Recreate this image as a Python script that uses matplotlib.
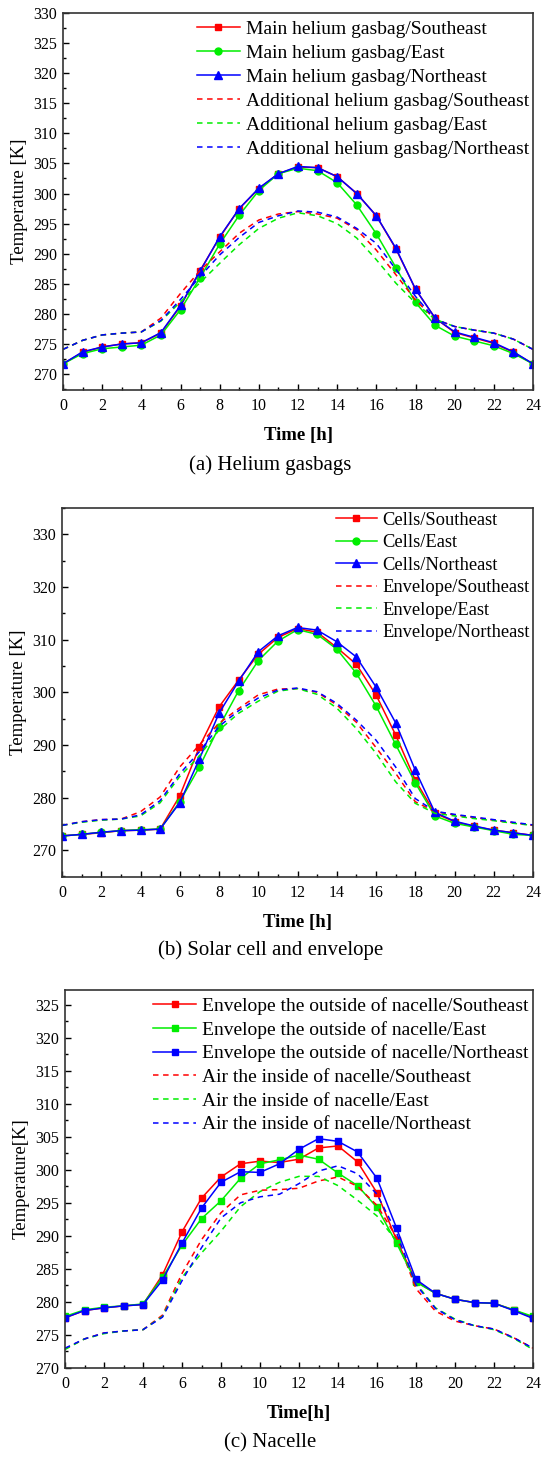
import matplotlib
matplotlib.use("Agg")
import matplotlib.pyplot as plt
from matplotlib.ticker import MultipleLocator

plt.rcParams['font.family'] = ['Liberation Serif', 'DejaVu Serif']
plt.rcParams['mathtext.fontset'] = 'stix'

hours = list(range(25))

# ---------------- (a) Helium gasbags ----------------
main_se = [271.7, 273.6, 274.5, 275.0, 275.2, 276.8, 281.3, 287.2, 292.7, 297.5, 300.8, 303.3, 304.4,
           304.3, 302.8, 300.0, 296.3, 290.8, 284.1, 279.3, 276.9, 276.0, 275.1, 273.6, 271.7]
main_e = [271.7, 273.4, 274.2, 274.5, 274.8, 276.5, 280.7, 286.0, 291.6, 296.4, 300.5, 303.3, 304.2,
          303.8, 301.8, 298.1, 293.3, 287.7, 281.9, 278.1, 276.3, 275.5, 274.7, 273.4, 271.7]
main_ne = [271.7, 273.7, 274.5, 275.0, 275.2, 276.9, 281.4, 287.1, 292.8, 297.5, 300.9, 303.3, 304.5,
           304.3, 302.8, 300.0, 296.3, 290.9, 284.1, 279.3, 277.0, 276.1, 275.2, 273.7, 271.7]
add_se = [274.1, 275.6, 276.5, 276.8, 277.0, 279.3, 283.4, 287.2, 290.3, 293.4, 295.6, 296.6, 297.0,
          296.6, 295.9, 294.0, 290.6, 286.5, 282.3, 279.1, 277.9, 277.3, 276.8, 275.8, 274.1]
add_e = [274.1, 275.6, 276.5, 276.8, 277.0, 278.8, 282.0, 285.2, 288.4, 291.5, 294.2, 295.9, 296.8,
         296.3, 295.0, 292.6, 289.0, 285.1, 281.8, 279.1, 277.9, 277.3, 276.8, 275.8, 274.1]
add_ne = [274.1, 275.6, 276.5, 276.8, 277.0, 278.9, 282.4, 286.2, 289.8, 292.7, 295.2, 296.3, 297.1,
          296.9, 296.1, 294.2, 291.7, 287.4, 282.9, 279.1, 277.9, 277.3, 276.8, 275.8, 274.1]
labels_a = ['Main helium gasbag/Southeast', 'Main helium gasbag/East', 'Main helium gasbag/Northeast',
            'Additional helium gasbag/Southeast', 'Additional helium gasbag/East',
            'Additional helium gasbag/Northeast']

# ---------------- (b) Solar cell and envelope ----------------
cells_se = [272.7, 273.0, 273.3, 273.7, 273.8, 274.0, 280.3, 289.6, 297.2, 302.3, 307.2, 310.4, 312.1,
            311.4, 308.5, 305.3, 299.5, 291.9, 283.3, 277.0, 275.4, 274.5, 273.8, 273.3, 272.8]
cells_e = [272.7, 273.0, 273.4, 273.7, 273.9, 274.0, 279.2, 285.8, 293.4, 300.3, 306.0, 309.7, 311.9,
           311.0, 308.2, 303.6, 297.4, 290.1, 282.8, 276.5, 275.1, 274.4, 273.7, 273.0, 272.8]
cells_ne = [272.7, 273.0, 273.4, 273.7, 273.8, 274.0, 279.0, 287.3, 296.0, 302.1, 307.7, 310.7, 312.3,
            311.8, 309.6, 306.7, 301.0, 294.2, 285.2, 277.2, 275.5, 274.6, 273.8, 273.3, 272.8]
env_se = [274.7, 275.4, 275.8, 275.9, 277.3, 280.1, 285.8, 290.0, 294.1, 296.9, 299.5, 300.6, 300.7,
          300.0, 297.6, 294.3, 289.5, 284.6, 279.2, 277.3, 276.7, 276.2, 275.7, 275.2, 274.7]
env_e = [274.7, 275.3, 275.7, 275.9, 276.5, 279.0, 284.0, 287.9, 292.8, 296.0, 298.3, 300.2, 300.7,
         299.6, 297.0, 293.1, 288.4, 283.0, 278.9, 277.0, 276.5, 276.0, 275.6, 275.1, 274.7]
env_ne = [274.7, 275.4, 275.8, 275.9, 276.7, 279.4, 284.5, 288.7, 293.5, 296.5, 298.9, 300.4, 300.8,
          300.1, 297.9, 294.7, 290.9, 285.8, 279.8, 277.4, 276.8, 276.3, 275.8, 275.3, 274.8]
labels_b = ['Cells/Southeast', 'Cells/East', 'Cells/Northeast',
            'Envelope/Southeast', 'Envelope/East', 'Envelope/Northeast']

# ---------------- (c) Nacelle ----------------
out_se = [277.6, 278.7, 279.1, 279.4, 279.6, 284.1, 290.6, 295.7, 298.9, 300.9, 301.3, 301.1, 301.6,
          303.3, 303.6, 301.2, 296.5, 289.4, 283.1, 281.3, 280.4, 279.9, 279.8, 278.8, 277.6]
out_e = [277.8, 278.8, 279.2, 279.4, 279.7, 283.7, 288.6, 292.6, 295.3, 298.7, 300.9, 301.5, 302.2,
         301.6, 299.5, 297.6, 294.3, 288.9, 283.0, 281.3, 280.4, 279.9, 279.8, 278.8, 277.8]
out_ne = [277.6, 278.7, 279.1, 279.4, 279.6, 283.3, 288.9, 294.2, 298.1, 299.7, 299.6, 300.9, 303.1,
          304.7, 304.3, 302.7, 298.7, 291.2, 283.4, 281.3, 280.4, 279.9, 279.8, 278.7, 277.5]
air_se = [272.9, 274.4, 275.3, 275.6, 275.8, 278.0, 284.3, 289.4, 293.5, 296.2, 296.9, 297.0, 297.2,
          298.3, 298.9, 297.5, 294.6, 289.8, 282.0, 278.6, 277.1, 276.4, 275.9, 274.6, 273.0]
air_e = [272.8, 274.4, 275.2, 275.6, 275.8, 277.8, 283.7, 287.4, 290.7, 294.4, 296.7, 298.1, 299.0,
         299.0, 297.6, 295.4, 293.0, 289.2, 282.8, 279.1, 277.4, 276.4, 275.8, 274.5, 272.8]
air_ne = [273.0, 274.4, 275.3, 275.6, 275.8, 277.7, 283.2, 288.2, 292.7, 295.0, 295.9, 296.3, 297.9,
          299.8, 300.6, 299.4, 296.3, 290.5, 282.6, 279.0, 277.3, 276.4, 275.9, 274.6, 273.0]
labels_c = ['Envelope the outside of nacelle/Southeast', 'Envelope the outside of nacelle/East',
            'Envelope the outside of nacelle/Northeast', 'Air the inside of nacelle/Southeast',
            'Air the inside of nacelle/East', 'Air the inside of nacelle/Northeast']

RED, GREEN, BLUE = '#FF0000', '#00EE00', '#0000FF'
W, H = 541, 1461
fig = plt.figure(figsize=(W / 100, H / 100), dpi=100)


def px_axes(left, right, top, bottom):
    return fig.add_axes([left / W, 1 - bottom / H, (right - left) / W, (bottom - top) / H])


def style(ax, ylim, ymaj, ymin, xlabel, caption, cap_y):
    ax.set_xlim(0, 24)
    ax.set_ylim(*ylim)
    ax.xaxis.set_major_locator(MultipleLocator(2))
    ax.xaxis.set_minor_locator(MultipleLocator(1))
    ax.yaxis.set_major_locator(MultipleLocator(ymaj))
    ax.yaxis.set_minor_locator(MultipleLocator(ymin))
    ax.tick_params(which='both', direction='in', top=False, right=False, width=1.0, labelsize=11.5)
    ax.tick_params(which='major', length=4)
    ax.tick_params(which='minor', length=2.5)
    ax.tick_params(axis='x', pad=6)
    ax.tick_params(axis='y', pad=4)
    for s in ax.spines.values():
        s.set_linewidth(1.2)
        s.set_color('#333333')
    ax.set_xlabel(xlabel, fontsize=13.5, fontweight='bold', labelpad=9)
    ax.set_ylabel(ax.get_ylabel(), fontsize=13.5, labelpad=4)
    fig.text(0.5, 1 - cap_y / H, caption, ha='center', va='center', fontsize=15)


def legend(ax, x0, y0, spacing, size=14):
    ax.legend(loc='upper left', bbox_to_anchor=(x0, y0), frameon=False, fontsize=size,
              handlelength=2.2, handletextpad=0.3, labelspacing=spacing, borderpad=0, borderaxespad=0)


DASH = (3.6, 3.0)
LW = 1.1
MS = 5

# Panel (a)
ax1 = px_axes(63, 533, 13, 390)
ax1.plot(hours, main_se, color=RED, marker='s', ms=MS, lw=LW, label=labels_a[0])
ax1.plot(hours, main_e, color=GREEN, marker='o', ms=MS, lw=LW, label=labels_a[1])
ax1.plot(hours, main_ne, color=BLUE, marker='^', ms=MS + 0.5, lw=LW, label=labels_a[2])
ax1.plot(hours, add_se, color=RED, ls='--', dashes=DASH, lw=LW, label=labels_a[3])
ax1.plot(hours, add_e, color=GREEN, ls='--', dashes=DASH, lw=LW, label=labels_a[4])
ax1.plot(hours, add_ne, color=BLUE, ls='--', dashes=DASH, lw=LW, label=labels_a[5])
ax1.set_ylabel('Temperature [K]')
style(ax1, (267.35, 330), 5, 2.5, 'Time [h]', '(a) Helium gasbags', 465)
legend(ax1, 0.285, 0.98, 0.33)

# Panel (b)
ax2 = px_axes(62, 533, 508, 877)
ax2.plot(hours, cells_se, color=RED, marker='s', ms=MS, lw=LW, label=labels_b[0])
ax2.plot(hours, cells_e, color=GREEN, marker='o', ms=MS, lw=LW, label=labels_b[1])
ax2.plot(hours, cells_ne, color=BLUE, marker='^', ms=MS + 0.5, lw=LW, label=labels_b[2])
ax2.plot(hours, env_se, color=RED, ls='--', dashes=DASH, lw=LW, label=labels_b[3])
ax2.plot(hours, env_e, color=GREEN, ls='--', dashes=DASH, lw=LW, label=labels_b[4])
ax2.plot(hours, env_ne, color=BLUE, ls='--', dashes=DASH, lw=LW, label=labels_b[5])
ax2.set_ylabel('Temperature [K]')
style(ax2, (264.9, 335), 10, 5, 'Time [h]', '(b) Solar cell and envelope', 950)
legend(ax2, 0.582, 0.99, 0.30, size=13.3)

# Panel (c)
ax3 = px_axes(65, 533, 990, 1368)
ax3.plot(hours, out_se, color=RED, marker='s', ms=MS, lw=LW, label=labels_c[0])
ax3.plot(hours, out_e, color=GREEN, marker='s', ms=MS, lw=LW, label=labels_c[1])
ax3.plot(hours, out_ne, color=BLUE, marker='s', ms=MS, lw=LW, label=labels_c[2])
ax3.plot(hours, air_se, color=RED, ls='--', dashes=DASH, lw=LW, label=labels_c[3])
ax3.plot(hours, air_e, color=GREEN, ls='--', dashes=DASH, lw=LW, label=labels_c[4])
ax3.plot(hours, air_ne, color=BLUE, ls='--', dashes=DASH, lw=LW, label=labels_c[5])
ax3.set_ylabel('Temperature[K]')
style(ax3, (270, 327.2), 5, 2.5, 'Time[h]', '(c) Nacelle', 1443)
legend(ax3, 0.189, 0.982, 0.31)

fig.savefig('out.png', dpi=100)
